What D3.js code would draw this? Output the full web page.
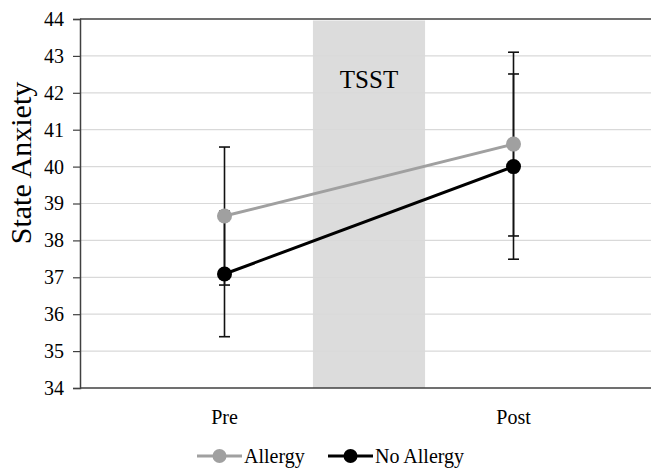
<!DOCTYPE html>
<html><head><meta charset="utf-8">
<script src="https://cdn.jsdelivr.net/npm/d3@7"></script>
<style>body{margin:0;background:#fff}svg{display:block}
text{font-family:'Liberation Serif','Times New Roman',serif !important;}</style>
</head><body>
<script>
const categories = ["Pre", "Post"];
const seriesNames = ["Allergy", "No Allergy"];
const allergyMeans = [38.66, 40.61];
const allergyErr = [1.87, 2.49];
const noAllergyMeans = [37.09, 40.0];
const noAllergyErr = [1.70, 2.51];
const yTicks = [34, 35, 36, 37, 38, 39, 40, 41, 42, 43, 44];
const bandLabel = "TSST";
const yTitle = "State Anxiety";

const W = 651, H = 470;
const font = "'Liberation Serif','Times New Roman',serif";
const svg = d3.select("body").append("svg").attr("width", W).attr("height", H);

const x = d3.scaleBand().domain(categories).range([80, 658]);
const y = d3.scaleLinear().domain([34, 44]).range([388, 19]);
const cx = c => x(c) + x.bandwidth() / 2;

// grid
svg.append("g").selectAll("line").data(yTicks.slice(1, -1)).join("line")
  .attr("x1", 80).attr("x2", W).attr("y1", d => y(d)).attr("y2", d => y(d))
  .attr("stroke", "#d9d9d9").attr("stroke-width", 1.2);

// TSST band
const bx = x("Post"), halfW = x.step() * 0.194;
svg.append("rect").attr("x", bx - halfW).attr("width", 2 * halfW)
  .attr("y", y(44) + 1.5).attr("height", y(34) - y(44) - 1.5)
  .attr("fill", "#d9d9d9").attr("opacity", 0.92);
svg.append("text").attr("x", bx).attr("y", 88).attr("text-anchor", "middle")
  .style("font-family", font).attr("font-size", 25).attr("fill", "#000").text(bandLabel);

// top line
svg.append("line").attr("x1", 80).attr("x2", W).attr("y1", y(44)).attr("y2", y(44))
  .attr("stroke", "#404040").attr("stroke-width", 1.5);

// axes
const yAxis = svg.append("g").attr("transform", "translate(80,0)")
  .call(d3.axisLeft(y).tickValues(yTicks).tickSize(7).tickPadding(9))
  .attr("font-family", null).attr("font-size", null);
yAxis.select(".domain").attr("stroke", "#404040").attr("stroke-width", 1.5);
yAxis.selectAll(".tick line").attr("stroke", "#404040").attr("stroke-width", 1.2);
yAxis.selectAll("text").style("font-family", font).style("font-size", "20px").attr("fill", "#000");

const xAxis = svg.append("g").attr("transform", "translate(0,388)")
  .call(d3.axisBottom(x).tickSize(0).tickPadding(22))
  .attr("font-family", null).attr("font-size", null);
xAxis.select(".domain").attr("stroke", "#404040").attr("stroke-width", 1.5).attr("d", `M80,0H${W}`);
xAxis.selectAll("text").style("font-family", font).style("font-size", "20px").attr("fill", "#000");

svg.append("text").attr("transform", "translate(31,163) rotate(-90)")
  .attr("text-anchor", "middle").style("font-family", font).attr("font-size", 30)
  .attr("fill", "#000").text(yTitle);

const series = [
  {name: seriesNames[1], means: noAllergyMeans, err: noAllergyErr, color: "#000"},
  {name: seriesNames[0], means: allergyMeans, err: allergyErr, color: "#a0a0a0"}
];

// error bars
series.forEach(s => {
  const g = svg.append("g").attr("stroke", "#111").attr("stroke-width", 1.6);
  categories.forEach((c, i) => {
    const lo = y(s.means[i] - s.err[i]), hi = y(s.means[i] + s.err[i]);
    g.append("line").attr("x1", cx(c)).attr("x2", cx(c)).attr("y1", lo).attr("y2", hi);
    g.append("line").attr("x1", cx(c) - 5.5).attr("x2", cx(c) + 5.5).attr("y1", lo).attr("y2", lo);
    g.append("line").attr("x1", cx(c) - 5.5).attr("x2", cx(c) + 5.5).attr("y1", hi).attr("y2", hi);
  });
});

// lines + markers
const line = d3.line().x((d, i) => cx(categories[i])).y(d => y(d));
series.forEach(s => {
  svg.append("path").datum(s.means).attr("d", line).attr("fill", "none")
    .attr("stroke", s.color).attr("stroke-width", 3);
  svg.append("g").selectAll("circle").data(s.means).join("circle")
    .attr("cx", (d, i) => cx(categories[i])).attr("cy", d => y(d)).attr("r", 7.5)
    .attr("fill", s.color);
});

// legend
const legend = [
  {name: seriesNames[0], color: "#a0a0a0", x0: 197},
  {name: seriesNames[1], color: "#000", x0: 328}
];
legend.forEach(l => {
  svg.append("line").attr("x1", l.x0).attr("x2", l.x0 + 45).attr("y1", 456).attr("y2", 456)
    .attr("stroke", l.color).attr("stroke-width", 3);
  svg.append("circle").attr("cx", l.x0 + 22.5).attr("cy", 456).attr("r", 7).attr("fill", l.color);
  svg.append("text").attr("x", l.x0 + 47).attr("y", 463).style("font-family", font)
    .attr("font-size", 20).attr("fill", "#000").text(l.name);
});
</script>
</body></html>
